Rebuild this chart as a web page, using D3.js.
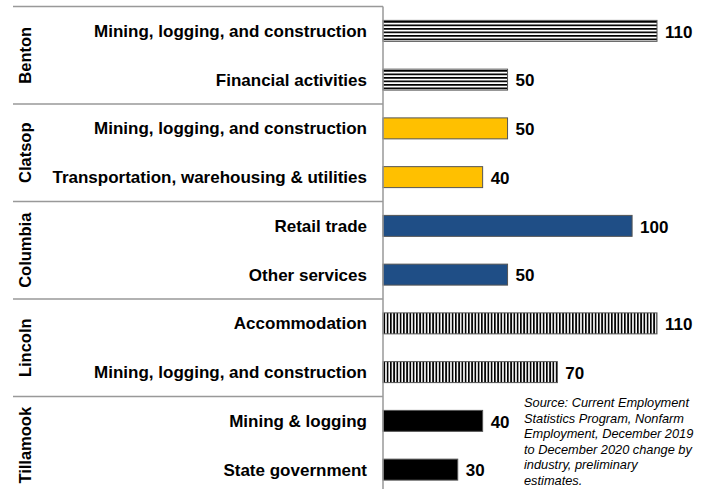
<!DOCTYPE html>
<html>
<head>
<meta charset="utf-8">
<script src="https://cdn.jsdelivr.net/npm/d3@7"></script>
<style>
  body { margin: 0; background: #fff; }
  text { font-family: "Liberation Sans", Arial, sans-serif; }
</style>
</head>
<body>
<script>
// canvas
const width = 708;
const height = 489;

// data
const counties = ['Benton', 'Clatsop', 'Columbia', 'Lincoln', 'Tillamook'];
const industries = [
  'Mining, logging, and construction', 'Financial activities',
  'Mining, logging, and construction', 'Transportation, warehousing & utilities',
  'Retail trade', 'Other services',
  'Accommodation', 'Mining, logging, and construction',
  'Mining & logging', 'State government'
];
const rowCounty = ['Benton', 'Benton', 'Clatsop', 'Clatsop', 'Columbia', 'Columbia', 'Lincoln', 'Lincoln', 'Tillamook', 'Tillamook'];
const values = [110, 50, 50, 40, 100, 50, 110, 70, 40, 30];
const sourceLines = [
  'Source: Current Employment',
  'Statistics Program, Nonfarm',
  'Employment, December 2019',
  'to December 2020 change by',
  'industry, preliminary',
  'estimates.'
];

const svg = d3.select('body').append('svg')
  .attr('width', width)
  .attr('height', height);

// fills
const defs = svg.append('defs');
const hp = defs.append('pattern').attr('id', 'horz')
  .attr('patternUnits', 'userSpaceOnUse').attr('width', 8).attr('height', 3.5);
hp.append('rect').attr('width', 8).attr('height', 3.5).attr('fill', '#fff');
hp.append('rect').attr('y', 0).attr('width', 8).attr('height', 1.7).attr('fill', '#000');
const vp = defs.append('pattern').attr('id', 'vert')
  .attr('patternUnits', 'userSpaceOnUse').attr('width', 3.25).attr('height', 8);
vp.append('rect').attr('width', 3.25).attr('height', 8).attr('fill', '#fff');
vp.append('rect').attr('x', 0).attr('width', 1.7).attr('height', 8).attr('fill', '#000');

const color = d3.scaleOrdinal()
  .domain(counties)
  .range(['url(#horz)', '#FFC000', '#1F4E86', 'url(#vert)', '#000']);

// scales
const x0 = 383;
const yTop = 6.5;
const yBottom = 494;
const x = d3.scaleLinear().domain([0, 110]).range([x0, 657]);
const y = d3.scaleBand()
  .domain(d3.range(values.length))
  .range([yTop, yBottom])
  .paddingInner(0.57)
  .paddingOuter(0.285);
const g = d3.scaleBand().domain(counties).range([yTop, yBottom]);

// group separators
svg.selectAll('.sep')
  .data(counties)
  .enter()
  .append('line')
  .attr('x1', 13).attr('x2', x0)
  .attr('y1', d => g(d)).attr('y2', d => g(d))
  .attr('stroke', '#999').attr('stroke-width', 1.5);

// county labels
svg.selectAll('.county')
  .data(counties)
  .enter()
  .append('text')
  .attr('transform', d => 'translate(31,' + (g(d) + g.bandwidth() / 2) + ') rotate(-90)')
  .attr('text-anchor', 'middle')
  .attr('font-size', 16.5)
  .attr('font-weight', 'bold')
  .text(d => d);

// bars
svg.selectAll('.bar')
  .data(values)
  .enter()
  .append('rect')
  .attr('x', x(0))
  .attr('y', (d, i) => y(i))
  .attr('width', d => x(d) - x(0))
  .attr('height', y.bandwidth())
  .attr('fill', (d, i) => color(rowCounty[i]))
  .attr('stroke', '#555')
  .attr('stroke-width', 1);

// category labels
svg.selectAll('.cat')
  .data(industries)
  .enter()
  .append('text')
  .attr('x', 367)
  .attr('y', (d, i) => y(i) + y.bandwidth() / 2)
  .attr('dy', '0.35em')
  .attr('text-anchor', 'end')
  .attr('font-size', 17)
  .attr('font-weight', 'bold')
  .text(d => d);

// value labels
svg.selectAll('.val')
  .data(values)
  .enter()
  .append('text')
  .attr('x', d => x(d) + 8)
  .attr('y', (d, i) => y(i) + y.bandwidth() / 2)
  .attr('dy', '0.4em')
  .attr('font-size', 17)
  .attr('font-weight', 'bold')
  .text(d => d);

// axis line
svg.append('line')
  .attr('x1', x0).attr('x2', x0)
  .attr('y1', yTop).attr('y2', height)
  .attr('stroke', '#999').attr('stroke-width', 1.5);

// source note
svg.append('text')
  .attr('x', 524)
  .attr('y', 407)
  .attr('font-size', 12.8)
  .attr('font-style', 'italic')
  .selectAll('tspan')
  .data(sourceLines)
  .enter()
  .append('tspan')
  .attr('x', 524)
  .attr('dy', (d, i) => i === 0 ? 0 : 15.6)
  .text(d => d);
</script>
</body>
</html>
